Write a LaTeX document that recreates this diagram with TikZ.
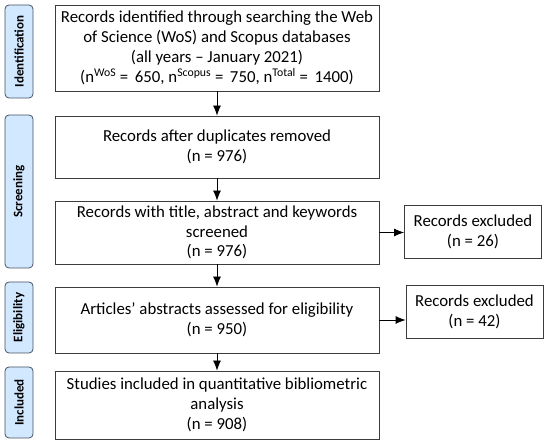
\documentclass[tikz,border=0pt]{standalone}
\usepackage{fontspec}
\setmainfont{Carlito}
\usetikzlibrary{arrows.meta}
\definecolor{stagefill}{RGB}{210,232,255}
\definecolor{stageline}{RGB}{70,80,100}
\definecolor{boxline}{RGB}{60,60,60}
\tikzset{
	stage/.style={draw=stageline, fill=stagefill, rounded corners=4pt, line width=.8pt, minimum height=28pt, rotate=90, font=\fontsize{13}{15}\selectfont\bfseries, inner sep=0pt},
	recbox/.style={draw=boxline, line width=.8pt, minimum width=324pt, align=center, font=\fontsize{16.8}{19.8}\selectfont, inner sep=0pt},
	exbox/.style={draw=boxline, line width=.8pt, minimum width=137pt, minimum height=53pt, align=center, font=\fontsize{16.8}{19.8}\selectfont, inner sep=0pt},
	flow/.style={-{Latex[length=10pt,width=8pt]}, line width=.8pt}
}
\begin{document}
\begin{tikzpicture}[x=1pt, y=-1pt]
	\useasboundingbox (0,0) rectangle (550,446);
	% stages
	\node[stage, minimum width=93pt] (ident) at (19,51.5) {Identification};
	\node[stage, minimum width=153pt] (screen) at (19,191.5) {Screening};
	\node[stage, minimum width=71pt] (elig) at (19,317.5) {Eligibility};
	\node[stage, minimum width=71pt] (incl) at (19,402.5) {Included};
	% records
	\node[recbox, minimum height=86pt] (found) at (217,48) {Records identified through searching the Web\\of Science (WoS) and Scopus databases\\(all years -- January 2021)\\(n\textsuperscript{WoS} = \,650, n\textsuperscript{Scopus} = \,750, n\textsuperscript{Total} = \,1400)};
	\node[recbox, minimum height=62pt] (dupl) at (217,147) {Records after duplicates removed\\(n = 976)};
	\node[recbox, minimum height=63pt] (screened) at (217,232.5) {Records with title, abstract and keywords\\screened\\(n = 976)};
	\node[recbox, minimum height=66pt] (abstr) at (217,320) {Articles’ abstracts assessed for eligibility\\(n = 950)};
	\node[recbox, minimum height=68pt] (studies) at (217,405) {Studies included in quantitative bibliometric\\analysis\\(n = 908)};
	\node[exbox] (excl1) at (473,231.5) {Records excluded\\(n = 26)};
	\node[exbox] (excl2) at (474.5,311.5) {Records excluded\\(n = 42)};
	% arrows
	\draw[flow] (found) -- (dupl);
	\draw[flow] (dupl) -- (screened);
	\draw[flow] (screened) -- (abstr);
	\draw[flow] (abstr) -- (studies);
	\draw[flow] (screened.east) -- (screened.east -| excl1.west);
	\draw[flow] (abstr.east) -- (abstr.east -| excl2.west);
\end{tikzpicture}
\end{document}
